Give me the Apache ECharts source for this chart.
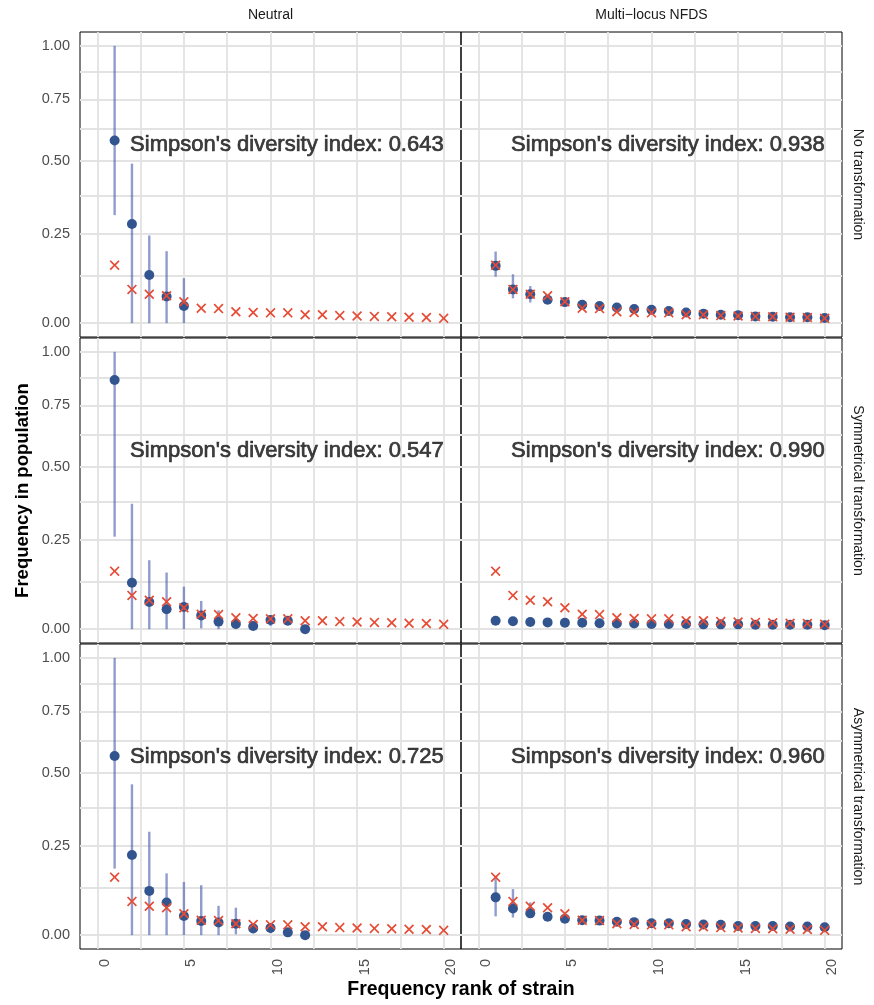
<!DOCTYPE html>
<html>
<head>
<meta charset="utf-8">
<script src="https://cdn.jsdelivr.net/npm/echarts@6/dist/echarts.min.js"></script>
<style>
  html, body { margin: 0; padding: 0; background: #fff; }
  #main { width: 874px; height: 1005px; }
</style>
</head>
<body>
<div id="main"></div>
<script>
// ---- data -------------------------------------------------------------
var rank = [1, 2, 3, 4, 5, 6, 7, 8, 9, 10, 11, 12, 13, 14, 15, 16, 17, 18, 19, 20];

// observed strain frequencies (red crosses, same in every panel)
var observed = [0.156, 0.088, 0.075, 0.071, 0.055, 0.038, 0.037, 0.029, 0.027, 0.026,
                0.026, 0.021, 0.021, 0.019, 0.018, 0.017, 0.016, 0.015, 0.014, 0.012];

// simulated means and intervals (blue)
var neutralNone    = [0.579, 0.281, 0.128, 0.069, 0.044];
var neutralNoneLo  = [0.31, 0, 0, 0, 0];
var neutralNoneHi  = [1.0, 0.49, 0.245, 0.197, 0.119];

var nfdsNone   = [0.154, 0.088, 0.075, 0.060, 0.054, 0.047, 0.044, 0.040, 0.036, 0.034,
                  0.031, 0.027, 0.024, 0.021, 0.020, 0.017, 0.016, 0.015, 0.015, 0.013];
var nfdsNoneLo = [0.123, 0.064, 0.053, 0.055, 0.050, 0.043, 0.040, 0.036, 0.033, 0.031,
                  0.028, 0.024, 0.021, 0.019, 0.018, 0.015, 0.014, 0.013, 0.013, 0.011];
var nfdsNoneHi = [0.196, 0.130, 0.097, 0.066, 0.058, 0.051, 0.048, 0.044, 0.039, 0.037,
                  0.034, 0.030, 0.027, 0.024, 0.022, 0.019, 0.018, 0.017, 0.017, 0.015];

var neutralSym   = [0.864, 0.123, 0.070, 0.051, 0.057, 0.035, 0.019, 0.013, 0.008, 0.023, 0.021, 0];
var neutralSymLo = [0.26, 0, 0, 0, 0, 0.002, 0, 0, 0, 0.008, 0.010, 0];
var neutralSymHi = [1.0, 0.368, 0.188, 0.152, 0.112, 0.073, 0.048, 0.030, 0.020, 0.035, 0.030, 0];

var nfdsSym   = [0.021, 0.020, 0.018, 0.017, 0.016, 0.016, 0.015, 0.014, 0.014, 0.013,
                 0.013, 0.013, 0.012, 0.012, 0.012, 0.011, 0.011, 0.011, 0.011, 0.010];
var nfdsSymLo = [0.017, 0.017, 0.015, 0.014, 0.013, 0.013, 0.012, 0.011, 0.011, 0.010,
                 0.010, 0.010, 0.009, 0.009, 0.009, 0.008, 0.008, 0.008, 0.008, 0.007];
var nfdsSymHi = [0.027, 0.024, 0.022, 0.021, 0.020, 0.020, 0.019, 0.018, 0.018, 0.017,
                 0.017, 0.017, 0.016, 0.016, 0.016, 0.015, 0.015, 0.015, 0.015, 0.014];

var neutralAsym   = [0.565, 0.222, 0.117, 0.085, 0.049, 0.036, 0.032, 0.029, 0.017, 0.018, 0.007, 0];
var neutralAsymLo = [0.181, 0, 0, 0, 0, 0, 0, 0.002, 0.005, 0.005, 0, 0];
var neutralAsymHi = [1.0, 0.458, 0.295, 0.167, 0.142, 0.133, 0.076, 0.071, 0.030, 0.030, 0.015, 0];

var nfdsAsym   = [0.099, 0.069, 0.056, 0.047, 0.042, 0.038, 0.037, 0.034, 0.033, 0.030,
                  0.030, 0.028, 0.027, 0.026, 0.023, 0.023, 0.023, 0.022, 0.022, 0.020];
var nfdsAsymLo = [0.048, 0.045, 0.045, 0.040, 0.037, 0.034, 0.033, 0.030, 0.029, 0.027,
                  0.027, 0.025, 0.024, 0.023, 0.020, 0.020, 0.020, 0.019, 0.019, 0.017];
var nfdsAsymHi = [0.155, 0.122, 0.085, 0.055, 0.047, 0.042, 0.041, 0.038, 0.037, 0.033,
                  0.033, 0.031, 0.030, 0.029, 0.026, 0.026, 0.026, 0.025, 0.025, 0.023];

var simpson = [0.643, 0.938, 0.547, 0.990, 0.725, 0.960];

var colLabels = ['Neutral', 'Multi\u2212locus NFDS'];
var rowLabels = ['No transformation', 'Symmetrical transformation', 'Asymmetrical transformation'];

var yTicks = [0, 0.25, 0.5, 0.75, 1];
var yMinor = [0.125, 0.375, 0.625, 0.875];
var xTicks = [0, 5, 10, 15, 20];
var xMinor = [2.5, 7.5, 12.5, 17.5];

// ---- chart ------------------------------------------------------------
var panels = [
    [neutralNone, neutralNoneLo, neutralNoneHi],
    [nfdsNone, nfdsNoneLo, nfdsNoneHi],
    [neutralSym, neutralSymLo, neutralSymHi],
    [nfdsSym, nfdsSymLo, nfdsSymHi],
    [neutralAsym, neutralAsymLo, neutralAsymHi],
    [nfdsAsym, nfdsAsymLo, nfdsAsymHi]
];

// log1p scale, like scale_y_continuous(trans = "log1p")
function tr(v) { return Math.log1p(v); }
var yTop = tr(1);
var yMin = -0.05 * yTop, yMax = 1.05 * yTop;

var font = 'Liberation Sans, Arial, Helvetica, sans-serif';
var gridColor = '#e3e3e3';
var blue = '#33558f';
var red = '#e64b35';
var barColor = 'rgba(70,92,170,0.6)';
var cross = 'path://M0,1.2L1.2,0L5,3.8L8.8,0L10,1.2L6.2,5L10,8.8L8.8,10L5,6.2L1.2,10L0,8.8L3.8,5Z';

var colLeft = [80, 461];
var rowTop = [32, 338, 644];
var panelW = 381, panelH = 305;

var grids = [], xAxes = [], yAxes = [], series = [];

for (var p = 0; p < 6; p++) {
    var row = Math.floor(p / 2), col = p % 2;
    grids.push({
        left: colLeft[col], top: rowTop[row], width: panelW, height: panelH,
        show: true, borderColor: '#000', borderWidth: 1, backgroundColor: 'transparent'
    });
    xAxes.push({
        gridIndex: p, type: 'value', min: -1, max: 21,
        position: row === 0 ? 'top' : 'bottom',
        name: row === 0 ? colLabels[col] : '',
        nameLocation: 'middle', nameGap: 10,
        nameTextStyle: { color: '#1a1a1a', fontSize: 14, fontFamily: font },
        axisLine: { show: false },
        axisTick: { show: false, customValues: xTicks.concat(xMinor) },
        axisLabel: {
            show: row === 2, customValues: xTicks, rotate: 90, verticalAlign: 'top',
            margin: 10, color: '#4d4d4d', fontSize: 14.5, fontFamily: font
        },
        splitLine: { show: true, lineStyle: { color: gridColor, width: 1.8 } }
    });
    yAxes.push({
        gridIndex: p, type: 'value', min: yMin, max: yMax,
        position: col === 0 ? 'left' : 'right',
        name: col === 1 ? rowLabels[row] : (row === 1 ? 'Frequency in population' : ''),
        nameLocation: 'middle',
        nameRotate: col === 1 ? -90 : 90,
        nameGap: col === 1 ? 9 : 48,
        nameTextStyle: col === 1
            ? { color: '#1a1a1a', fontSize: 14, fontFamily: font }
            : { color: '#000', fontSize: 18.5, fontWeight: 'bold', fontFamily: font },
        axisLine: { show: false },
        axisTick: { show: false, customValues: yTicks.concat(yMinor).map(tr) },
        axisLabel: {
            show: col === 0, customValues: yTicks.map(tr), margin: 10,
            color: '#4d4d4d', fontSize: 14.5, fontFamily: font,
            formatter: function (v) { return Math.expm1(v).toFixed(2); }
        },
        splitLine: { show: true, lineStyle: { color: gridColor, width: 1.8 } }
    });

    var mean = panels[p][0], lo = panels[p][1], hi = panels[p][2];
    var barData = [], meanData = [], obsData = [];
    for (var i = 0; i < mean.length; i++) {
        barData.push([rank[i], tr(lo[i]), tr(hi[i])]);
        meanData.push([rank[i], tr(mean[i])]);
    }
    for (var j = 0; j < observed.length; j++) {
        obsData.push([rank[j], tr(observed[j])]);
    }

    series.push({
        type: 'custom', xAxisIndex: p, yAxisIndex: p, silent: true,
        encode: { x: 0, y: [1, 2] },
        renderItem: function (params, api) {
            var a = api.coord([api.value(0), api.value(1)]);
            var b = api.coord([api.value(0), api.value(2)]);
            return {
                type: 'line',
                shape: { x1: a[0], y1: a[1], x2: b[0], y2: b[1] },
                style: { stroke: barColor, lineWidth: 2.4 }
            };
        },
        data: barData
    });
    series.push({
        type: 'scatter', xAxisIndex: p, yAxisIndex: p, silent: true,
        symbol: 'circle', symbolSize: 10,
        itemStyle: { color: blue, opacity: 1 },
        data: meanData
    });
    series.push({
        type: 'scatter', xAxisIndex: p, yAxisIndex: p, silent: true,
        symbol: cross, symbolSize: 10,
        itemStyle: { color: red, opacity: 1 },
        data: obsData
    });
    series.push({
        type: 'scatter', xAxisIndex: p, yAxisIndex: p, silent: true,
        symbolSize: 0,
        label: {
            show: true, position: 'left', distance: 0,
            formatter: "Simpson's diversity index: " + simpson[p].toFixed(3),
            color: '#111', fontSize: 22, fontFamily: font,
            textBorderColor: '#111', textBorderWidth: 0.7
        },
        data: [[20, tr(0.56)]]
    });
}

var chart = echarts.init(document.getElementById('main'), null, { renderer: 'canvas' });
chart.setOption({
    backgroundColor: '#ffffff',
    animation: false,
    grid: grids,
    xAxis: xAxes,
    yAxis: yAxes,
    series: series,
    graphic: [{
        type: 'text', x: 461, y: 990,
        style: {
            text: 'Frequency rank of strain', fill: '#000',
            font: 'bold 19.5px ' + font, align: 'center', verticalAlign: 'middle'
        }
    }]
});
</script>
</body>
</html>
